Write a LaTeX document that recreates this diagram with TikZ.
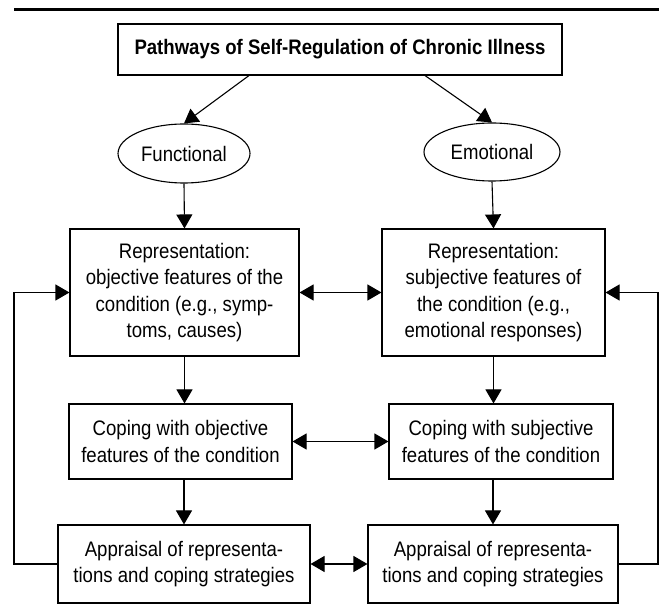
\documentclass[tikz,border=0pt]{standalone}
\usepackage{fontspec}
\setmainfont{Liberation Sans}[FakeStretch=0.885]
\usetikzlibrary{arrows.meta,shapes.geometric}

\begin{document}
\begin{tikzpicture}[x=1pt,y=1pt,font=\fontsize{21}{26.5}\selectfont,line width=1.1pt,
  box/.style={draw,rectangle,align=center,inner sep=0pt},
  oval/.style={draw,ellipse,inner sep=0pt},
  arr/.style={-{Triangle[length=14pt,width=16pt]}},
  dbl/.style={{Triangle[length=14pt,width=16pt]}-{Triangle[length=14pt,width=16pt]}}]
  \useasboundingbox (0,0) rectangle (659,616);
  \draw[line width=2.4pt] (14,606.5) -- (659,606.5);
  % title and the two pathways
  \node[box,minimum width=444pt,minimum height=51pt,font=\fontsize{21}{24}\selectfont\bfseries] (head) at (340,566.5) {Pathways of Self-Regulation of Chronic Illness};
  \node[oval,minimum width=132pt,minimum height=59pt] (fun) at (184,462.5) {Functional};
  \node[oval,minimum width=136pt,minimum height=58pt] (emo) at (492,464) {Emotional};
  \draw[arr] ([xshift=-91pt]head.south) -- (fun.north);
  \draw[arr] ([xshift=85pt]head.south) -- (emo.north);
  % representation
  \node[box,minimum width=229pt,minimum height=127pt] (repl) at (184.5,323.5) {Representation:\\ objective features of the\\ condition (e.g., symp-\\ toms, causes)};
  \node[box,minimum width=223pt,minimum height=127pt] (repr) at (493.5,323.5) {Representation:\\ subjective features of\\ the condition (e.g.,\\ emotional responses)};
  % coping
  \node[box,minimum width=223pt,minimum height=75pt] (copl) at (180.5,174.5) {Coping with objective\\ features of the condition};
  \node[box,minimum width=224pt,minimum height=75pt] (copr) at (501,174.5) {Coping with subjective\\ features of the condition};
  % appraisal
  \node[box,minimum width=252pt,minimum height=78pt] (appl) at (184,52) {Appraisal of representa-\\ tions and coping strategies};
  \node[box,minimum width=250pt,minimum height=78pt] (appr) at (493,52) {Appraisal of representa-\\ tions and coping strategies};
  \draw[arr] (fun.south) -- (repl.north);
  \draw[arr] (emo.south) -- (repr.north);
  \draw[arr] (repl.south) -- (repl.south |- copl.north);
  \draw[arr] (repr.south) -- (repr.south |- copr.north);
  \draw[arr] (copl.south -| appl.north) -- (appl.north);
  \draw[arr] (copr.south -| appr.north) -- (appr.north);
  \draw[dbl] (repl.east) -- (repr.west);
  \draw[dbl] (copl.east) -- (copr.west);
  \draw[dbl] (appl.east) -- (appr.west);
  % feedback loops
  \coordinate (fl) at (14,52);
  \coordinate (fr) at (658,52);
  \draw[arr] (appl.west) -- (fl) |- (repl.west);
  \draw[arr] (appr.east) -- (fr) |- (repr.east);
\end{tikzpicture}
\end{document}
